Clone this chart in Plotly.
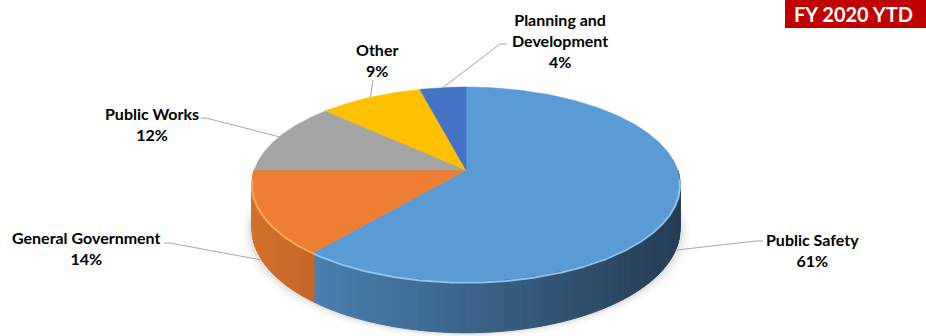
import math
import plotly.graph_objects as go

# ---- data ----
categories = ["Public Safety", "General Government", "Public Works", "Other", "Planning and<br>Development"]
values = [61, 14, 12, 9, 4]
colors = ["#5B9BD5", "#ED7D31", "#A5A5A5", "#FFC000", "#4472C4"]
title_text = "FY 2020 YTD"

# ---- geometry (layout constants, pixels) ----
W, H = 926, 336
CX, CY = 466, 170       # apex of the pie
RX, RY = 211.7, 95.0    # radii of top face
P = 0.146               # perspective factor
DEPTH = 44.0            # thickness of the pie

# label centres (layout) and leader elbow points
label_pos = [(812, 249.5), (86.5, 248), (152, 123.5), (377, 59.5), (560, 40)]
leader_elbow = [[(756, 241), (763, 241)],
                [(170, 243), (164, 243)],
                [(206, 118), (201, 118)],
                [(373, 80)],
                [(500, 44), (507, 44)]]


def proj(theta, depth=0.0):
    t = math.radians(theta)
    u, v = math.sin(t), math.cos(t)
    s = 1.0 / (1.0 + P * v)
    return CX + RX * u * s, CY - RY * v * s + depth * s


def arc(a0, a1, depth=0.0, step=1.0):
    n = max(2, int(abs(a1 - a0) / step) + 1)
    return [proj(a0 + (a1 - a0) * i / (n - 1), depth) for i in range(n)]


def hex_rgb(h):
    h = h.lstrip("#")
    return tuple(int(h[i:i + 2], 16) for i in (0, 2, 4))


def shade(h, f):
    r, g, b = hex_rgb(h)
    return "rgb(%d,%d,%d)" % (r * f, g * f, b * f)


total = float(sum(values))
angles = []
acc = 0.0
for v in values:
    a0 = acc / total * 360.0
    acc += v
    angles.append((a0, acc / total * 360.0))

fig = go.Figure()


def poly(pts, fill, line=None, lw=0.8, opacity=1.0):
    xs = [p[0] for p in pts] + [pts[0][0]]
    ys = [p[1] for p in pts] + [pts[0][1]]
    fig.add_trace(go.Scatter(x=xs, y=ys, mode="lines", fill="toself", fillcolor=fill,
                             line=dict(color=line or fill, width=lw), opacity=opacity,
                             hoverinfo="skip", showlegend=False))


# soft shadow
for grow, alpha in [(10, 0.025), (6, 0.035), (3, 0.05)]:
    pts = []
    for i in range(361):
        x, y = proj(i, DEPTH)
        pts.append((CX + (x - CX) * (1 + grow / RX), y + grow * 0.6))
    poly(pts, "rgba(0,0,0,%.3f)" % alpha, lw=0)

# side walls (front half, 90..270 deg)
xmin, xmax = CX - RX * 1.01, CX + RX * 1.01
for (a0, a1), col in zip(angles, colors):
    b0, b1 = max(a0, 90.0), min(a1, 270.0)
    if b1 <= b0:
        continue
    n = max(1, int((b1 - b0) / 2.0))
    for i in range(n):
        s0 = b0 + (b1 - b0) * i / n
        s1 = b0 + (b1 - b0) * (i + 1) / n
        top = arc(s0, s1, 0, 0.5)
        bot = arc(s1, s0, DEPTH, 0.5)
        xm = proj((s0 + s1) / 2)[0]
        t = (xm - xmin) / (xmax - xmin)
        f = 0.9 - 0.5 * t
        c = shade(col, f)
        poly(top + bot, c, lw=1.0)

# top faces
for (a0, a1), col in zip(angles, colors):
    pts = [(CX, CY)] + arc(a0, a1, 0, 0.5)
    poly(pts, col, lw=0.6)

# bevel highlight on front rim
for (a0, a1), col in zip(angles, colors):
    b0, b1 = max(a0, 95.0), min(a1, 265.0)
    if b1 <= b0:
        continue
    pts = arc(b0, b1, 1.2, 0.5)
    r, g, b = hex_rgb(col)
    hl = "rgba(%d,%d,%d,0.9)" % (min(255, r + 60), min(255, g + 50), min(255, b + 35))
    fig.add_trace(go.Scatter(x=[p[0] for p in pts], y=[p[1] for p in pts], mode="lines",
                             line=dict(color=hl, width=2), hoverinfo="skip", showlegend=False))

# leader lines and labels
annotations = []
for (a0, a1), name, v, lp, elbow in zip(angles, categories, values, label_pos, leader_elbow):
    mid = (a0 + a1) / 2
    d = DEPTH if math.cos(math.radians(mid)) < 0 else 0.0
    start = proj(mid, d)
    pts = [start] + elbow
    fig.add_trace(go.Scatter(x=[p[0] for p in pts], y=[p[1] for p in pts], mode="lines",
                             line=dict(color="#A6A6A6", width=1), hoverinfo="skip", showlegend=False))
    annotations.append(dict(x=lp[0], y=lp[1], xref="x", yref="y", showarrow=False,
                            text="<b>%s<br>%d%%</b>" % (name, round(v / total * 100)),
                            font=dict(family="Lato", size=16, color="#000000"),
                            xanchor="center", yanchor="middle", align="center"))

annotations.append(dict(x=792, y=14, xref="x", yref="y", showarrow=False,
                        text="<b>%s</b>" % title_text,
                        font=dict(family="Lato", size=20, color="#FFFFFF"),
                        xanchor="left", yanchor="middle"))

fig.update_layout(
    width=W, height=H, margin=dict(l=0, r=0, t=0, b=0),
    paper_bgcolor="white", plot_bgcolor="white",
    xaxis=dict(range=[0, W], visible=False, fixedrange=True),
    yaxis=dict(range=[H, 0], visible=False, fixedrange=True),
    shapes=[dict(type="rect", xref="x", yref="y", x0=785, x1=W + 5, y0=-5, y1=28,
                 fillcolor="#C00000", line=dict(width=0), layer="above")],
    annotations=annotations,
    showlegend=False,
)

fig.write_html("out.html")
